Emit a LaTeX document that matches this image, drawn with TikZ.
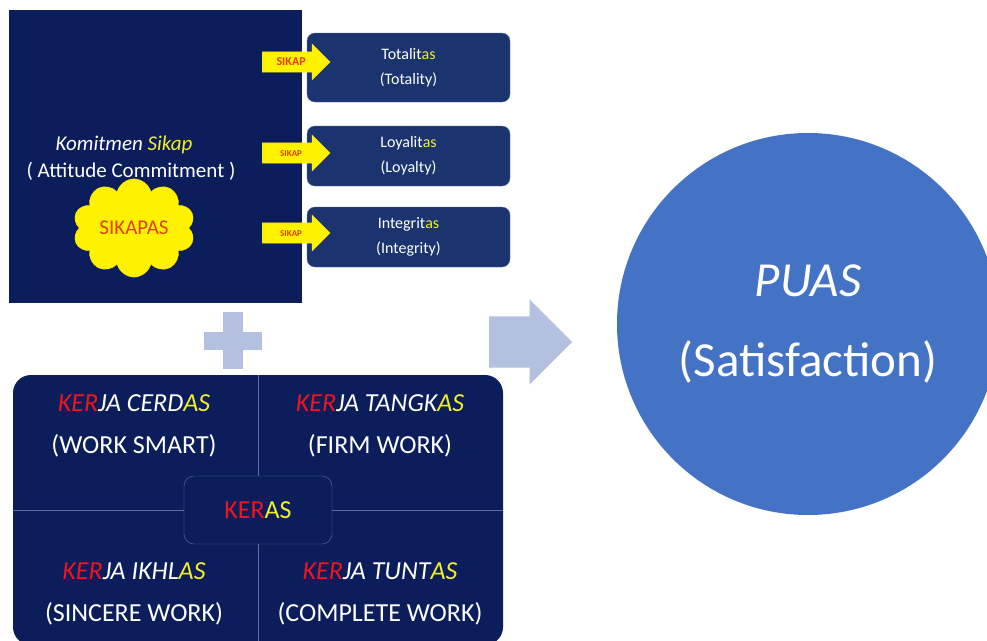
\documentclass[tikz,border=0pt]{standalone}
\usepackage{fontspec}
\setmainfont{Carlito}
\usetikzlibrary{shapes.symbols,shapes.arrows}
\definecolor{navy}{HTML}{0B1E5B}
\definecolor{boxblue}{HTML}{1B3470}
\definecolor{rimblue}{HTML}{5A6FA8}
\definecolor{pale}{HTML}{B4C0E0}
\definecolor{satblue}{HTML}{4472C4}
\definecolor{kred}{HTML}{F0141E}
\definecolor{kyel}{HTML}{F0EE2C}
\definecolor{sred}{HTML}{E0401A}
\newcommand{\fs}[2]{\fontsize{#1}{#2}\selectfont}
\newcommand{\kerword}[2]{\textcolor{kred}{KER}#1\textcolor{kyel}{#2}}
\tikzset{
  valuebox/.style={draw=rimblue, fill=boxblue, rounded corners=8pt, minimum width=203pt,
    text=white, align=center, font=\fs{16}{25}},
  sikaparrow/.style={single arrow, fill=yellow, draw=yellow!85!orange, minimum height=68pt,
    text height=7pt, text depth=1pt, inner ysep=6pt, inner xsep=2pt, single arrow head extend=8pt,
    text=sred, anchor=tail},
  kertext/.style={text=white, align=center, font=\fs{26}{42}}
}
\begin{document}
\begin{tikzpicture}[x=1pt,y=-1pt]
    \useasboundingbox[fill=white] (0,0) rectangle (987,640);
    \node[fill=navy, minimum width=293pt, minimum height=293pt] (sikap) at (155.5,156.5) {};
    \node[text=white, font=\fs{21}{26}\itshape] (komitmen) at (124,145) {Komitmen \textcolor{kyel}{Sikap}};
    \node[text=white, font=\fs{21}{26}] (attitude) at (131,171) {( Attitude Commitment )};
    \node[cloud, cloud puffs=10, aspect=1.4, fill=yellow, draw=yellow!80!orange, minimum width=122pt,
      minimum height=82pt, text=sred, font=\fs{21}{26}] (sikapas) at (134,228) {SIKAPAS};
    \node[valuebox, minimum height=69pt] (total) at (408.5,67.5) {Totalit\textcolor{kyel}{as}\\(Totality)};
    \node[valuebox, minimum height=60pt] (loyal) at (408.5,156) {Loyalit\textcolor{kyel}{as}\\(Loyalty)};
    \node[valuebox, minimum height=60pt] (integ) at (408.5,237) {Integrit\textcolor{kyel}{as}\\(Integrity)};
    \node[sikaparrow, font=\fs{12}{12}\bfseries] (atotal) at (262,62) {SIKAP};
    \node[sikaparrow, font=\fs{9}{9}\bfseries] (aloyal) at (262,153) {SIKAP};
    \node[sikaparrow, font=\fs{9}{9}\bfseries] (ainteg) at (262,233) {SIKAP};
    \fill[pale] (223,312) rectangle (243,369);
    \fill[pale] (204,332) rectangle (262,350);
    \node[fill=navy, rounded corners=18pt, minimum width=490pt, minimum height=270pt] (kerja) at (258,510) {};
    \node[draw=rimblue, fill=navy, rounded corners=10pt, minimum width=148pt, minimum height=68pt,
      font=\fs{26}{30}] (keras) at (258,510) {\textcolor{kred}{KER}\textcolor{kyel}{AS}};
    \draw[rimblue] (kerja.north) -- (keras.north);
    \draw[rimblue] (keras.south) -- (kerja.south);
    \draw[rimblue] (kerja.west) -- (keras.west);
    \draw[rimblue] (keras.east) -- (kerja.east);
    \node[kertext] (cerdas) at (134,426) {\textit{\kerword{JA CERD}{AS}}\\(WORK SMART)};
    \node[kertext] (tangkas) at (380,426) {\textit{\kerword{JA TANGK}{AS}}\\(FIRM WORK)};
    \node[kertext] (ikhlas) at (134,594) {\textit{\kerword{JA IKHL}{AS}}\\(SINCERE WORK)};
    \node[kertext] (tuntas) at (380,594) {\textit{\kerword{JA TUNT}{AS}}\\(COMPLETE WORK)};
    \node[single arrow, fill=pale, minimum height=83pt, inner sep=0pt, text height=0pt, text depth=0pt,
      inner ysep=25.5pt, single arrow head extend=17pt, anchor=tail] (next) at (489,342) {};
    \node[circle, fill=satblue, minimum size=382pt, text=white, align=center, font=\fs{49}{80}] (puas)
      at (808,324) {\textit{PUAS}\\(Satisfaction)};
  \end{tikzpicture}
\end{document}
